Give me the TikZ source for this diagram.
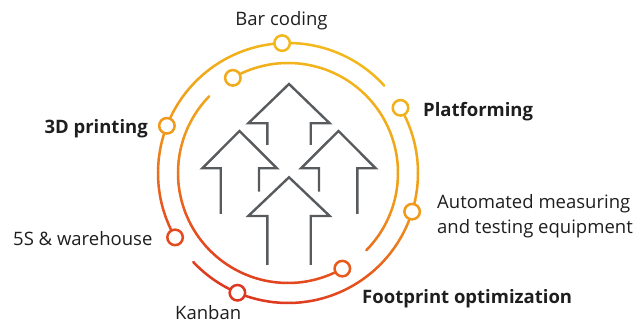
\documentclass[tikz,border=0pt]{standalone}
\usepackage{fontspec}
\setmainfont{Open Sans}
\usetikzlibrary{calc}
\definecolor{cA}{RGB}{242,184,28}
\definecolor{cB}{RGB}{240,154,26}
\definecolor{cC}{RGB}{232,88,30}
\definecolor{cD}{RGB}{220,50,32}
\definecolor{arrowgray}{RGB}{88,91,94}
\definecolor{txt}{RGB}{30,30,30}
\newcommand\setpcolor[2]{%
  \pgfmathsetmacro\tval{max(0,min(1,((#2-40)+0.35*(288-#1))/280))}%
  \ifdim\tval pt<0.45pt
    \pgfmathtruncatemacro\pp{100*\tval/0.45}\colorlet{pcol}{cB!\pp!cA}%
  \else\ifdim\tval pt<0.75pt
    \pgfmathtruncatemacro\pp{100*(\tval-0.45)/0.3}\colorlet{pcol}{cC!\pp!cB}%
  \else
    \pgfmathtruncatemacro\pp{100*(\tval-0.75)/0.25}\colorlet{pcol}{cD!\pp!cC}%
  \fi\fi}
\newcommand\ringarc[3]{%
  \pgfmathsetmacro\angS{#2}\pgfmathsetmacro\angE{#3}%
  \pgfmathtruncatemacro\nseg{max(1,round(abs(\angE-\angS)/2))}%
  \foreach \i in {1,...,\nseg}{%
    \pgfmathsetmacro\angA{\angS+(\angE-\angS)*(\i-1)/\nseg}%
    \pgfmathsetmacro\angB{\angS+(\angE-\angS)*\i/\nseg}%
    \pgfmathsetmacro\angM{(\angA+\angB)/2}%
    \pgfmathsetmacro\mx{288+#1*cos(\angM)}%
    \pgfmathsetmacro\my{173-#1*sin(\angM)}%
    \setpcolor{\mx}{\my}%
    \draw[ring,draw=pcol] (\angA:#1pt) arc[start angle=\angA,end angle=\angB,radius=#1pt];
  }}
\newcommand\ringdot[3]{%
  \pgfmathsetmacro\mx{288+#3*cos(#2)}\pgfmathsetmacro\my{173-#3*sin(#2)}%
  \setpcolor{\mx}{\my}%
  \node[dot,draw=pcol] (#1) at (#2:#3pt) {};}
\begin{document}
\begin{tikzpicture}[x=1pt,y=1pt,
  ring/.style={line width=2.5pt,line cap=round},
  dot/.style={circle,fill=white,line width=2.5pt,minimum size=15.5pt,inner sep=0pt},
  arrowline/.style={draw=arrowgray,line width=2.4pt,line join=miter},
  lbl/.style={font=\fontsize{18.5}{25}\selectfont,text=txt,inner sep=0pt},
  lblb/.style={font=\fontsize{18.5}{25}\selectfont\bfseries,text=txt,inner sep=0pt}]
\useasboundingbox (0,0) rectangle (643,329);
% arrows
\draw[arrowline] (267.3,184) -- (267.3,205.7) -- (248.3,205.7) -- (289,245) -- (329.7,205.7) -- (310.7,205.7) -- (310.7,184);
\draw[arrowline] (220.7,115) -- (220.7,160.7) -- (202.3,160.7) -- (239.5,198) -- (277,160.7) -- (259,160.7) -- (259,137.3);
\draw[arrowline] (319,137.3) -- (319,160.7) -- (301,160.7) -- (338.5,198) -- (375.7,160.7) -- (357.3,160.7) -- (357.3,115);
\draw[arrowline] (267.3,64) -- (267.3,113) -- (248.3,113) -- (289,151.7) -- (329.7,113) -- (310.7,113) -- (310.7,64);
% rings
\begin{scope}[shift={(288,156)}]
\ringarc{130}{42.2}{209.7}
\ringarc{130}{30.1}{-136.8}
\ringarc{110}{120.1}{-44.6}
\ringarc{110}{135.7}{299.6}
\ringdot{dbar}{92.6}{130}
\ringdot{dthreed}{158.7}{130}
\ringdot{dfives}{209.7}{130}
\ringdot{dplat}{30.1}{130}
\ringdot{dauto}{-17.3}{130}
\ringdot{dkanban}{-112.9}{130}
\ringdot{dinner}{120.1}{110}
\ringdot{dfoot}{-60.4}{110}
\end{scope}
% labels
\node[lbl,anchor=base] (tbar) at (281.5,303.5) {Bar coding};
\node[lblb,anchor=base west] (tplat) at (423,212.3) {Platforming};
\node[lblb,anchor=base east] (tthreed) at (148,195.7) {3D printing};
\node[lbl,anchor=base west] (tfives) at (13,83.3) {5S \& warehouse};
\node[lbl,anchor=base west] (tkanban) at (175,9) {Kanban};
\node[lblb,anchor=base west] (tfoot) at (362,25.7) {Footprint optimization};
\node[lbl,anchor=base west] (tauto1) at (437,120.7) {Automated measuring};
\node[lbl,anchor=base west] (tauto2) at (437,95.7) {and testing equipment};
\end{tikzpicture}
\end{document}
